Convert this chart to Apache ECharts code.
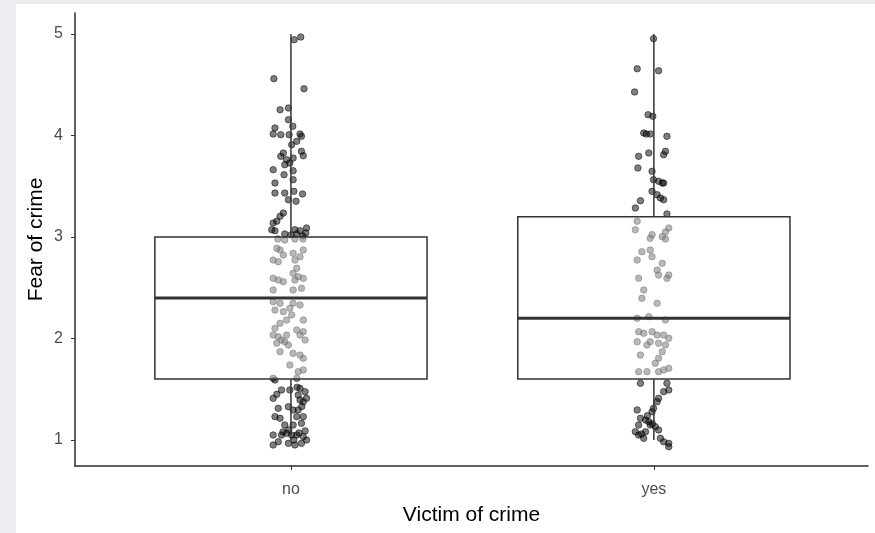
<!DOCTYPE html>
<html>
<head>
<meta charset="utf-8">
<script src="https://cdn.jsdelivr.net/npm/echarts@6/dist/echarts.min.js"></script>
<style>
html,body{margin:0;padding:0;background:#ebedf0;width:875px;height:533px;overflow:hidden;}
#chart{position:absolute;left:16px;top:4px;width:859px;height:529px;background:#fff;}
</style>
</head>
<body>
<div id="chart"></div>
<script>
// Categories and tick labels
const categories = ['no', 'yes'];
const yTicks = [1, 2, 3, 4, 5];

// Box statistics per category: [lowerWhisker, Q1, median, Q3, upperWhisker]
const boxNo = [1.0, 1.6, 2.4, 3.0, 5.0];
const boxYes = [1.0, 1.6, 2.2, 3.2, 5.0];

// Jittered points: [horizontal jitter offset, fear of crime]
const noPoints = [
  [0.009,4.944],[0.027,4.970],[-0.047,4.560],[0.036,4.461],[-0.030,4.254],[-0.007,4.271],
  [-0.007,4.156],[0.005,4.091],[-0.044,4.074],[-0.049,4.015],[-0.028,4.008],[-0.005,4.008],
  [0.025,4.015],[0.029,3.992],[0.016,3.943],[0.002,3.909],[-0.021,3.828],[-0.028,3.795],
  [0.029,3.844],[0.034,3.801],[-0.012,3.762],[0.006,3.778],[-0.017,3.712],[-0.003,3.729],
  [-0.049,3.663],[-0.019,3.614],[0.006,3.653],[0.006,3.565],[-0.044,3.532],[-0.044,3.433],
  [-0.017,3.433],[0.008,3.450],[0.032,3.424],[-0.007,3.367],[0.014,3.352],[-0.021,3.236],
  [-0.030,3.204],[-0.049,3.138],[-0.039,3.155],[-0.053,3.072],[0.011,3.072],[0.025,3.062],
  [0.043,3.089],[-0.044,3.062],[0.000,3.020],[0.016,3.030],[0.033,3.010],[0.041,3.040],
  [-0.017,3.030],
  [-0.039,2.889],[-0.021,2.823],[-0.030,2.872],[0.006,2.839],[0.034,2.872],[0.025,2.806],
  [0.011,2.773],[-0.049,2.773],[-0.035,2.757],[0.016,2.692],[-0.049,2.593],[-0.035,2.576],
  [-0.021,2.560],[0.006,2.642],[0.020,2.609],[0.034,2.593],[0.011,2.576],[0.006,2.478],
  [0.029,2.495],[-0.049,2.478],[-0.036,2.980],[-0.017,2.970],[0.011,2.980],[0.033,2.980],
  [-0.049,2.363],[-0.030,2.347],[-0.044,2.281],[-0.021,2.264],[-0.003,2.298],[0.006,2.347],
  [0.025,2.330],[0.002,2.232],[-0.012,2.182],[0.034,2.182],[-0.030,2.150],[-0.044,2.100],
  [0.034,2.067],[0.016,2.084],[-0.049,2.034],[-0.035,2.018],[-0.026,1.985],[-0.012,2.034],
  [0.025,2.034],[0.039,1.985],[-0.039,1.953],[-0.007,1.936],[-0.017,1.968],[-0.030,1.870],
  [0.006,1.854],[0.034,1.805],[0.025,1.837],[-0.003,1.739],[0.020,1.673],[0.034,1.690],
  [-0.049,1.608],[0.016,1.608],
  [-0.044,1.591],[-0.026,1.493],[-0.003,1.493],[0.025,1.509],[0.039,1.476],[0.020,1.443],
  [-0.049,1.411],[0.025,1.394],[0.034,1.377],[0.043,1.411],[-0.035,1.312],[-0.007,1.328],
  [0.006,1.296],[0.020,1.296],[-0.044,1.230],[-0.030,1.214],[0.016,1.230],[0.034,1.230],
  [-0.017,1.148],[0.006,1.148],[0.029,1.164],[-0.049,1.049],[-0.026,1.049],[-0.012,1.066],
  [0.002,1.049],[0.016,1.049],[0.034,1.033],[-0.035,0.983],[-0.007,0.967],[0.011,0.951],
  [0.029,0.967],[0.043,1.000],[-0.049,0.951],[-0.022,1.080],[0.022,1.070],[0.039,1.090],
  [-0.039,1.450],[0.017,1.520],[0.030,1.330],[-0.006,1.100],[0.008,1.000]
];
const yesPoints = [
  [-0.001,4.954],[-0.046,4.658],[0.013,4.638],[-0.053,4.429],[-0.016,4.205],[-0.003,4.189],
  [-0.028,4.025],[-0.021,4.015],[-0.010,4.015],[0.036,3.992],[0.032,3.844],[0.027,3.811],
  [-0.014,3.828],[-0.042,3.795],[-0.044,3.680],[-0.005,3.647],[-0.001,3.565],[0.013,3.549],
  [0.023,3.532],[0.027,3.532],[-0.005,3.450],[0.009,3.417],[0.018,3.384],[0.027,3.367],
  [-0.037,3.358],[-0.051,3.286],[0.036,3.227],
  [-0.046,3.155],[-0.051,3.072],[-0.005,3.023],[0.041,3.089],[0.032,3.049],[-0.010,2.987],
  [0.032,2.980],[0.023,3.003],[-0.033,2.855],[-0.010,2.872],[-0.005,2.806],[-0.046,2.773],
  [0.023,2.741],[0.009,2.675],[0.013,2.626],[0.041,2.626],[0.036,2.593],[-0.042,2.593],
  [-0.028,2.478],[-0.033,2.396],[0.009,2.347],[-0.046,2.199],[-0.014,2.215],[0.032,2.182],
  [-0.042,2.067],[-0.028,2.051],[-0.005,2.067],[0.009,2.034],[0.027,2.034],[0.041,2.002],
  [-0.046,1.968],[-0.010,1.968],[-0.019,1.936],[0.013,1.953],[0.032,1.936],[-0.037,1.837],
  [0.023,1.870],[0.013,1.805],[0.004,1.756],[-0.042,1.673],[-0.019,1.673],[0.013,1.673],
  [0.027,1.690],[0.041,1.706],
  [-0.037,1.559],[0.036,1.559],[0.041,1.493],[0.027,1.476],[0.013,1.411],[0.009,1.377],
  [-0.001,1.312],[-0.005,1.279],[-0.046,1.296],[-0.037,1.214],[-0.023,1.197],[-0.014,1.180],
  [-0.010,1.148],[-0.042,1.148],[0.004,1.131],[0.013,1.099],[-0.051,1.082],[-0.042,1.049],
  [-0.028,1.017],[0.018,1.017],[0.027,0.983],[0.041,0.967],[0.041,0.934],[-0.023,1.082],
  [-0.018,1.240],[-0.004,1.160],[-0.034,1.060]
];

const chart = echarts.init(document.getElementById('chart'), null, {renderer: 'canvas'});

const scatterData = []
  .concat(noPoints.map(p => [1 + p[0], p[1]]))
  .concat(yesPoints.map(p => [2 + p[0], p[1]]));
const boxData = [[1].concat(boxNo), [2].concat(boxYes)];

const FONT = 'Liberation Sans, Arial, sans-serif';

const option = {
  animation: false,
  backgroundColor: '#ffffff',
  grid: {left: 59, right: 7, top: 9, bottom: 67, containLabel: false},
  xAxis: {
    type: 'value', min: 0.405, max: 2.59,
    name: 'Victim of crime', nameLocation: 'middle', nameGap: 39, nameMoveOverlap: false,
    nameTextStyle: {color: '#000', fontSize: 21, fontFamily: FONT},
    axisLine: {show: true, lineStyle: {color: '#2b2b2b', width: 1.5}},
    axisTick: {show: true, length: 4, lineStyle: {color: '#333', width: 1}, customValues: [1, 2]},
    axisLabel: {color: '#4d4d4d', fontSize: 16, margin: 16, fontFamily: FONT,
      customValues: [1, 2], formatter: v => categories[Math.round(v) - 1]},
    splitLine: {show: false}
  },
  yAxis: {
    type: 'value', min: 0.744, max: 5.207,
    name: 'Fear of crime', nameLocation: 'middle', nameGap: 28, nameMoveOverlap: false,
    nameTextStyle: {color: '#000', fontSize: 21, fontFamily: FONT},
    axisLine: {show: true, lineStyle: {color: '#2b2b2b', width: 1.5}},
    axisTick: {show: true, length: 4, lineStyle: {color: '#333', width: 1}, customValues: yTicks},
    axisLabel: {color: '#4d4d4d', fontSize: 16, margin: 12, fontFamily: FONT,
      customValues: yTicks},
    splitLine: {show: false}
  },
  series: [
    {
      type: 'scatter', z: 2,
      symbol: 'circle', symbolSize: 6.5,
      itemStyle: {color: 'rgba(0,0,0,0.5)', borderColor: 'rgba(0,0,0,0.5)', borderWidth: 1, opacity: 1},
      data: scatterData
    },
    {
      type: 'custom', z: 5,
      data: boxData,
      renderItem: function (params, api) {
        const x = api.value(0);
        const lo = api.value(1), q1 = api.value(2), med = api.value(3), q3 = api.value(4), hi = api.value(5);
        const w = api.size([0.75, 0])[0];
        const c = api.coord([x, med]);
        const pLo = api.coord([x, lo]), pQ1 = api.coord([x, q1]), pQ3 = api.coord([x, q3]), pHi = api.coord([x, hi]);
        const left = c[0] - w / 2;
        return {
          type: 'group',
          children: [
            {type: 'line', shape: {x1: c[0], y1: pQ3[1], x2: c[0], y2: pHi[1]}, style: {stroke: '#333', lineWidth: 1.5}},
            {type: 'line', shape: {x1: c[0], y1: pQ1[1], x2: c[0], y2: pLo[1]}, style: {stroke: '#333', lineWidth: 1.5}},
            {type: 'rect', shape: {x: left, y: pQ3[1], width: w, height: pQ1[1] - pQ3[1]},
              style: {fill: 'rgba(255,255,255,0.45)', stroke: '#333', lineWidth: 1.5}},
            {type: 'line', shape: {x1: left, y1: c[1], x2: left + w, y2: c[1]}, style: {stroke: '#333', lineWidth: 3}}
          ]
        };
      }
    }
  ]
};
chart.setOption(option);
</script>
</body>
</html>
